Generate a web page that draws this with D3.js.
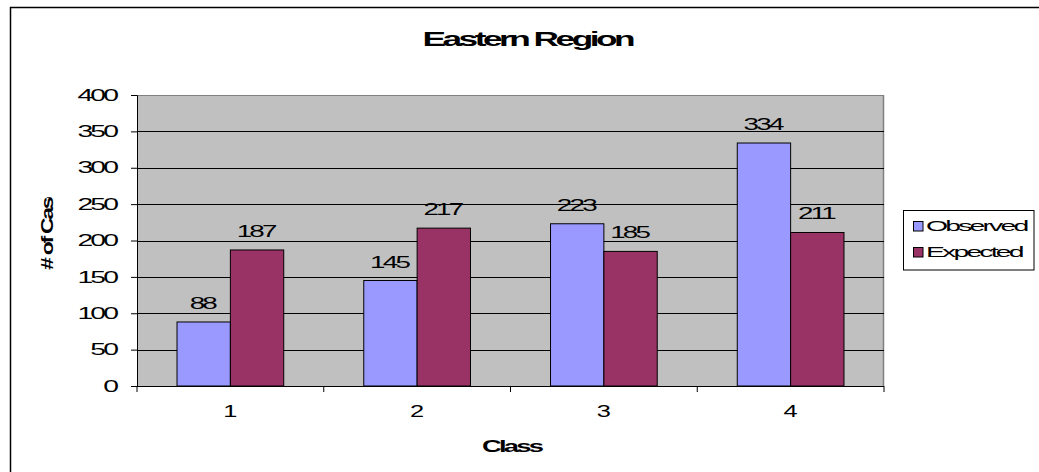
<!DOCTYPE html>
<html><head><meta charset="utf-8">
<script src="https://cdn.jsdelivr.net/npm/d3@7"></script>
<style>body{margin:0;background:#fff}svg{display:block;font-family:"Liberation Sans",Arial,sans-serif}</style>
</head><body><svg id="c" width="1039" height="472"></svg>
<script>
const categories = ["1","2","3","4"];
const seriesNames = ["Observed","Expected"];
const observed = [88,145,223,334];
const expected = [187,217,185,211];
const yTicks = [0,50,100,150,200,250,300,350,400];
const colors = ["#9999FF","#993366"];

const svg = d3.select("#c");
// outer chart border (extends past the crop at right/bottom)
svg.append("rect").attr("x",10.5).attr("y",7.5).attr("width",1100).attr("height",600)
  .attr("fill","#fff").attr("stroke","#000").attr("stroke-width",1.5);

// helper: horizontally stretched, tightly spaced text anchored at (x,y)
const K = 1.22;
function stext(parent, x, y, str, size, sx, anchor, bold){
  const s = sx*K;
  const ls = -0.55*size*(1-1/K);
  const shift = anchor==="end" ? ls*s : anchor==="middle" ? ls*s/2 : 0;
  return parent.append("text")
    .attr("transform",`translate(${x+shift},${y}) scale(${s},1)`)
    .attr("text-anchor",anchor).attr("font-size",size).attr("letter-spacing",ls)
    .attr("font-weight",bold?"bold":"normal").attr("fill","#000").text(str);
}

const L=137, R=884, T=95, B=386;
const x = d3.scaleBand().domain(categories).range([L,R]).paddingInner(0).paddingOuter(0);
const y = d3.scaleLinear().domain([0,400]).range([B,T]);
const barW = x.bandwidth()/3.5;
const gap = barW*0.75;

svg.append("rect").attr("x",L).attr("y",T).attr("width",R-L).attr("height",B-T).attr("fill","#C0C0C0");
svg.append("line").attr("x1",L).attr("x2",R).attr("y1",T+0.5).attr("y2",T+0.5).attr("stroke","#808080");
svg.append("line").attr("x1",R-0.5).attr("x2",R-0.5).attr("y1",T).attr("y2",B).attr("stroke","#808080").attr("stroke-width",1.5);

svg.append("g").selectAll("line").data(yTicks.filter(d=>d>0 && d<400)).join("line")
  .attr("x1",L).attr("x2",R).attr("y1",d=>Math.round(y(d))+0.5).attr("y2",d=>Math.round(y(d))+0.5)
  .attr("stroke","#000").attr("stroke-width",1);

const data = categories.map((c,i)=>({c, vals:[observed[i],expected[i]]}));
const g = svg.append("g");
data.forEach(d=>{
  d.vals.forEach((v,j)=>{
    const bx = x(d.c)+gap+j*barW;
    g.append("rect").attr("x",bx).attr("y",y(v)).attr("width",barW).attr("height",B-y(v))
      .attr("fill",colors[j]).attr("stroke","#000").attr("stroke-width",1);
    stext(g, bx+barW/2, y(v)-13, v, 17, 1.34, "middle", false);
  });
});

// axes
const yAxis = d3.axisLeft(y).tickValues(yTicks).tickSize(6).tickFormat("");
const ya = svg.append("g").attr("transform",`translate(${L},0)`).call(yAxis);
ya.select(".domain").attr("stroke","#000");
yTicks.forEach(t=>stext(svg, 119, y(t)+5.7, t, 16, 1.45, "end", false));

const xAxis = d3.axisBottom(x).tickSize(0).tickFormat("");
const xa = svg.append("g").attr("transform",`translate(0,${B})`).call(xAxis);
xa.select(".domain").attr("stroke","#000").attr("d",`M${L},0.5H${R}`);
categories.forEach(c=>stext(svg, x(c)+x.bandwidth()/2, 417, c, 16, 1.3, "middle", false));
// category boundary tick marks
svg.append("g").selectAll("line").data(categories.concat(["end"])).join("line")
  .attr("x1",(d,i)=>L+i*x.bandwidth()).attr("x2",(d,i)=>L+i*x.bandwidth())
  .attr("y1",B).attr("y2",B+6).attr("stroke","#000");

stext(svg, 529, 46, "Eastern Region", 20, 1.445, "middle", true);
stext(svg, 513, 452, "Class", 17, 1.32, "middle", true);

svg.append("defs").append("clipPath").attr("id","yc").append("rect").attr("x",25).attr("y",197).attr("width",45).attr("height",90);
const yl = svg.append("g").attr("clip-path","url(#yc)");
yl.append("text").attr("transform",`translate(52.5,270) rotate(-90) scale(${1.18*K},1)`)
  .attr("letter-spacing",-0.55*16*(1-1/K))
  .attr("font-size",16).attr("font-weight","bold").text("# of Cases");

// legend
const lg = svg.append("g");
lg.append("rect").attr("x",903.5).attr("y",210.5).attr("width",130.5).attr("height",59.5).attr("fill","#fff").attr("stroke","#000");
seriesNames.forEach((s,i)=>{
  lg.append("rect").attr("x",913.5).attr("y",221.5+i*26).attr("width",9.5).attr("height",9.5).attr("fill",colors[i]).attr("stroke","#000");
  stext(lg, 926, 231+i*26, s, 15, 1.55, "start", false);
});
</script></body></html>
